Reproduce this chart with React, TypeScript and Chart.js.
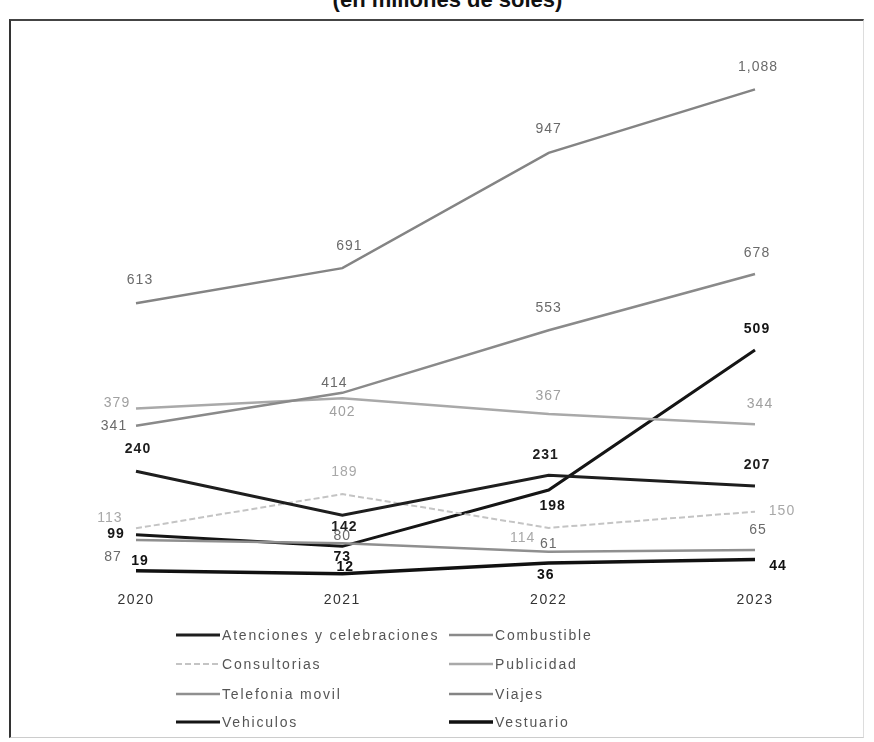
import React, { useEffect, useRef } from "react";
import { Chart, registerables } from "chart.js";

Chart.register(...registerables);

const years = ["2020", "2021", "2022", "2023"];
const seriesNames = [
  "Atenciones y celebraciones",
  "Combustible",
  "Consultorias",
  "Publicidad",
  "Telefonia movil",
  "Viajes",
  "Vehiculos",
  "Vestuario",
];
const atenciones = [240, 142, 231, 207];
const combustible = [341, 414, 553, 678];
const consultorias = [113, 189, 114, 150];
const publicidad = [379, 402, 367, 344];
const telefonia = [87, 80, 61, 65];
const viajes = [613, 691, 947, 1088];
const vehiculos = [99, 73, 198, 509];
const vestuario = [19, 12, 36, 44];
const titleText = "(en millones de soles)";

const seriesValues = [atenciones, combustible, consultorias, publicidad, telefonia, viajes, vehiculos, vestuario];

// styles (colour, width, dash, label style, label offsets per point)
const styles = [
  { color: "#1e1e1e", width: 3, dash: [], bold: true, label: "#1e1e1e", off: [[2, -22], [2, 12], [-3, -20], [2, -21]] },
  { color: "#8a8a8a", width: 2.5, dash: [], bold: false, label: "#6a6a6a", off: [[-22, 0], [-8, -10], [0, -22], [2, -21]] },
  { color: "#c4c4c4", width: 2, dash: [6, 3], bold: false, label: "#a8a8a8", off: [[-26, -10], [2, -22], [-26, 10], [27, -1]] },
  { color: "#a9a9a9", width: 2.5, dash: [], bold: false, label: "#a0a0a0", off: [[-19, -5], [0, 14], [0, -18], [5, -20]] },
  { color: "#8f8f8f", width: 2.5, dash: [], bold: false, label: "#6a6a6a", off: [[-23, 17], [0, -7], [0, -8], [3, -20]] },
  { color: "#848484", width: 2.5, dash: [], bold: false, label: "#6a6a6a", off: [[4, -23], [7, -22], [0, -24], [3, -22]] },
  { color: "#151515", width: 3, dash: [], bold: true, label: "#151515", off: [[-20, 0], [0, 11], [4, 16], [2, -21]] },
  { color: "#111111", width: 3.5, dash: [], bold: true, label: "#111111", off: [[4, -10], [3, -7], [-3, 12], [23, 7]] },
];

const spacingPlugin = {
  id: "letterSpacing",
  beforeDraw(chart: any) {
    (chart.ctx as any).letterSpacing = "1.5px";
  },
};

const labelPlugin = {
  id: "pointLabels",
  afterDatasetsDraw(chart: any) {
    const ctx = chart.ctx;
    ctx.save();
    ctx.textAlign = "center";
    ctx.textBaseline = "middle";
    (ctx as any).letterSpacing = "1px";
    chart.data.datasets.forEach((ds: any, di: number) => {
      const meta = chart.getDatasetMeta(di);
      const st = styles[di];
      ctx.font = `${st.bold ? "bold " : ""}14px "Liberation Sans", Arial, sans-serif`;
      ctx.fillStyle = st.label;
      meta.data.forEach((pt: any, i: number) => {
        const v = ds.data[i];
        const [dx, dy] = st.off[i];
        ctx.fillText(v.toLocaleString("en-US"), pt.x + dx, pt.y + dy);
      });
    });
    ctx.restore();
  },
};

function LegendSample({ st }: { st: any }) {
  return (
    <svg width={44} height={8} style={{ display: "block" }}>
      <line
        x1={0}
        y1={4}
        x2={44}
        y2={4}
        stroke={st.color}
        strokeWidth={st.width}
        strokeDasharray={st.dash.length ? st.dash.join(",") : undefined}
      />
    </svg>
  );
}

export default function App() {
  const ref = useRef<HTMLCanvasElement>(null);

  useEffect(() => {
    document.body.style.margin = "0";
    const canvas = ref.current!;
    const chart = new Chart(canvas, {
      type: "line",
      data: {
        labels: years,
        datasets: seriesNames.map((name, i) => ({
          label: name,
          data: seriesValues[i],
          borderColor: styles[i].color,
          borderWidth: styles[i].width,
          borderDash: styles[i].dash,
          pointRadius: 0,
          tension: 0,
          fill: false,
        })),
      },
      options: {
        responsive: false,
        animation: false,
        layout: { padding: { left: 136, right: 119, top: 39, bottom: 120 } },
        plugins: { legend: { display: false }, title: { display: false }, tooltip: { enabled: false } },
        scales: {
          x: {
            offset: false,
            grid: { display: false, drawTicks: false },
            border: { display: false },
            ticks: {
              color: "#333",
              padding: 13,
              font: { size: 14, family: '"Liberation Sans", Arial, sans-serif' },
            },
          },
          y: {
            display: false,
            min: 0,
            max: 1200,
          },
        },
      },
      plugins: [spacingPlugin, labelPlugin],
    });
    return () => chart.destroy();
  }, []);

  const rows = [
    [0, 1],
    [2, 3],
    [4, 5],
    [6, 7],
  ];
  const rowY = [635, 664, 694, 722];

  return (
    <div
      style={{
        position: "fixed",
        left: 0,
        top: 0,
        width: 874,
        height: 742,
        overflow: "hidden",
        background: "#fff",
        fontFamily: '"Liberation Sans", Arial, sans-serif',
      }}
    >
      <div
        style={{
          position: "absolute",
          left: 9,
          top: 19,
          width: 852,
          height: 716,
          borderLeft: "2px solid #333",
          borderTop: "2px solid #444",
          borderRight: "1px solid #ddd",
          borderBottom: "1px solid #ccc",
        }}
      />
      <div
        style={{
          position: "absolute",
          left: 295,
          width: 305,
          top: -12,
          height: 31,
          lineHeight: "24px",
          background: "#fff",
          textAlign: "center",
          fontWeight: "bold",
          fontSize: 22,
          color: "#111",
        }}
      >
        {titleText}
      </div>
      <canvas ref={ref} width={874} height={742} style={{ position: "absolute", left: 0, top: 0 }} />
      {rows.map((r, ri) =>
        r.map((si, ci) => (
          <div
            key={si}
            style={{
              position: "absolute",
              left: ci === 0 ? 176 : 449,
              top: rowY[ri] - 8,
              height: 16,
              display: "flex",
              alignItems: "center",
              fontSize: 14,
              letterSpacing: "1.8px",
              color: "#555",
              whiteSpace: "nowrap",
            }}
          >
            <LegendSample st={styles[si]} />
            <span style={{ marginLeft: 2 }}>{seriesNames[si]}</span>
          </div>
        ))
      )}
    </div>
  );
}
